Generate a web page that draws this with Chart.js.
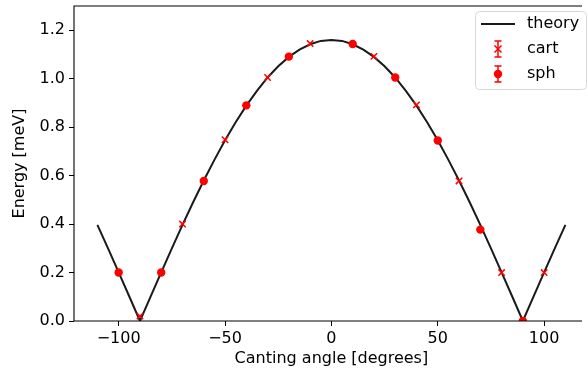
<!DOCTYPE html>
<html><head><meta charset="utf-8">
<script src="https://cdn.jsdelivr.net/npm/chart.js@4"></script>
<style>html,body{margin:0;padding:0;overflow:hidden;background:#fff;width:588px;height:376px}canvas{display:block}</style>
</head><body>
<canvas id="c" width="588" height="376" style="width:588px;height:376px"></canvas>
<script>
const theoryAngle = [-110,-105,-100,-95,-90,-85,-80,-75,-70,-65,-60,-55,-50,-45,-40,-35,-30,-25,-20,-15,-10,-5,0,5,10,15,20,25,30,35,40,45,50,55,60,65,70,75,80,85,90,95,100,105,110];
const theoryEnergy = [0.397,0.300,0.201,0.101,0.000,0.101,0.201,0.300,0.397,0.490,0.580,0.665,0.746,0.820,0.889,0.950,1.005,1.051,1.090,1.120,1.142,1.156,1.160,1.156,1.142,1.120,1.090,1.051,1.005,0.950,0.889,0.820,0.746,0.665,0.580,0.490,0.397,0.300,0.201,0.101,0.000,0.101,0.201,0.300,0.397];
const cartAngle = [-90,-70,-50,-30,-10,20,40,60,80,100];
const cartEnergy = [0.02,0.40,0.748,1.005,1.145,1.092,0.892,0.578,0.20,0.20];
const sphAngle = [-100,-80,-60,-40,-20,10,30,50,70,90];
const sphEnergy = [0.20,0.20,0.578,0.89,1.091,1.143,1.005,0.745,0.377,0.0];
const xTicks = [-100,-50,0,50,100];
const yTicks = [0,0.2,0.4,0.6,0.8,1.0,1.2];
const seriesLabels = ['theory','cart','sph'];
const xTitle = 'Canting angle [degrees]';
const yTitle = 'Energy [meV]';
// the original axis spans -121..121, but the image is cut off at about 117.8
const xMin = -121, xMaxFull = 121, xMaxVisible = 117.8;
const yMin = 0, yMax = 1.3;

const FONT = {family:'DejaVu Sans', size:16};
const RED = '#ff0000';
const pts = (xs, ys) => xs.map((x,i)=>({x:x, y:ys[i]}));

const spines = {
  id:'spines',
  afterDatasetsDraw(chart){
    const {ctx, chartArea:a} = chart;
    ctx.save();
    ctx.strokeStyle = '#000'; ctx.lineWidth = 1.1;
    ctx.beginPath();
    ctx.moveTo(a.right, a.top); ctx.lineTo(a.left, a.top);
    ctx.lineTo(a.left, a.bottom); ctx.lineTo(a.right, a.bottom);
    ctx.stroke();
    ctx.restore();
  }
};

const xTitleFull = {
  id:'xTitleFull',
  afterDraw(chart){
    const s = chart.scales.x, ctx = chart.ctx;
    const cx = (s.getPixelForValue(xMin) + s.getPixelForValue(xMaxFull)) / 2;
    ctx.save();
    ctx.fillStyle = '#000';
    ctx.font = FONT.size + 'px "' + FONT.family + '"';
    ctx.textAlign = 'center'; ctx.textBaseline = 'middle';
    ctx.fillText(xTitle, cx, 359);
    ctx.restore();
  }
};

const legendBox = {
  id:'legendBox',
  afterDraw(chart){
    const ctx = chart.ctx;
    const ds = chart.data.datasets;
    const a = chart.chartArea;
    ctx.save();
    // keep the cut-off right edge clean (no right spine in the original crop)
    ctx.fillStyle = '#fff';
    ctx.fillRect(587, a.top + 1.5, 1, a.bottom - a.top - 3);
    const x0 = 475.5, y0 = 11.5, w = 111, h = 78, r = 4;
    ctx.beginPath();
    ctx.moveTo(x0+r,y0); ctx.lineTo(x0+w-r,y0); ctx.arcTo(x0+w,y0,x0+w,y0+r,r);
    ctx.lineTo(x0+w,y0+h-r); ctx.arcTo(x0+w,y0+h,x0+w-r,y0+h,r);
    ctx.lineTo(x0+r,y0+h); ctx.arcTo(x0,y0+h,x0,y0+h-r,r);
    ctx.lineTo(x0,y0+r); ctx.arcTo(x0,y0,x0+r,y0,r); ctx.closePath();
    ctx.fillStyle = 'rgba(255,255,255,0.8)'; ctx.fill();
    ctx.strokeStyle = '#d8d8d8'; ctx.lineWidth = 1; ctx.stroke();
    const rows = [24, 49, 74];
    const cx = 498;
    ctx.strokeStyle = '#1a1a1a'; ctx.lineWidth = 2;
    ctx.beginPath(); ctx.moveTo(481, rows[0]); ctx.lineTo(515, rows[0]); ctx.stroke();
    for (let k=1;k<3;k++){
      const cy = rows[k];
      ctx.strokeStyle = RED; ctx.lineWidth = 1.5;
      ctx.beginPath();
      ctx.moveTo(cx, cy-8); ctx.lineTo(cx, cy+8);
      ctx.moveTo(cx-3.5, cy-8); ctx.lineTo(cx+3.5, cy-8);
      ctx.moveTo(cx-3.5, cy+8); ctx.lineTo(cx+3.5, cy+8);
      ctx.stroke();
      if (k===1){
        ctx.beginPath();
        ctx.moveTo(cx-3.5, cy-3.5); ctx.lineTo(cx+3.5, cy+3.5);
        ctx.moveTo(cx-3.5, cy+3.5); ctx.lineTo(cx+3.5, cy-3.5);
        ctx.stroke();
      } else {
        ctx.fillStyle = RED; ctx.beginPath(); ctx.arc(cx, cy, 4.2, 0, Math.PI*2); ctx.fill();
      }
    }
    ctx.fillStyle = '#000';
    ctx.font = FONT.size + 'px "' + FONT.family + '"';
    ctx.textBaseline = 'middle'; ctx.textAlign = 'left';
    for (let k=0;k<3;k++) ctx.fillText(ds[k].label, 527, rows[k]);
    ctx.restore();
  }
};

const fmtX = v => (v < 0 ? '\u2212' + Math.abs(v) : String(v));

new Chart(document.getElementById('c'), {
  type:'scatter',
  data:{datasets:[
    {label:seriesLabels[0], data:pts(theoryAngle, theoryEnergy), showLine:true, borderColor:'#1a1a1a', borderWidth:2, pointRadius:0, tension:0, order:3},
    {label:seriesLabels[1], data:pts(cartAngle, cartEnergy), pointStyle:'crossRot', pointRadius:4.5, borderColor:RED, backgroundColor:RED, pointBorderWidth:1.5, order:2, clip:0},
    {label:seriesLabels[2], data:pts(sphAngle, sphEnergy), pointStyle:'circle', pointRadius:4.2, borderColor:RED, backgroundColor:RED, pointBorderWidth:0, order:1, clip:0}
  ]},
  plugins:[spines, xTitleFull, legendBox],
  options:{
    responsive:false, animation:false, devicePixelRatio:1,
    layout:{padding:{left:0, top:3, right:0, bottom:0}},
    plugins:{legend:{display:false}, tooltip:{enabled:false}},
    scales:{
      x:{type:'linear', min:xMin, max:xMaxVisible,
        afterBuildTicks:s=>{s.ticks = xTicks.map(v=>({value:v}));},
        afterFit:s=>{s.height = 55; s.paddingLeft = 0; s.paddingRight = 0;},
        ticks:{font:FONT, color:'#000', padding:3, maxRotation:0, autoSkip:false, callback:v=>fmtX(v)},
        grid:{drawOnChartArea:false, drawTicks:true, tickLength:5, color:'#000', tickWidth:1},
        border:{display:false},
        title:{display:false}
      },
      y:{type:'linear', min:yMin, max:yMax,
        afterBuildTicks:s=>{s.ticks = yTicks.map(v=>({value:v}));},
        afterFit:s=>{s.width = 74; s.paddingTop = 0; s.paddingBottom = 0;},
        ticks:{font:FONT, color:'#000', padding:4, autoSkip:false, callback:v=>Number(v).toFixed(1)},
        grid:{drawOnChartArea:false, drawTicks:true, tickLength:5, color:'#000', tickWidth:1},
        border:{display:false},
        title:{display:true, text:yTitle, font:FONT, color:'#000', padding:{top:10,bottom:0}}
      }
    }
  }
});
</script>
</body></html>
